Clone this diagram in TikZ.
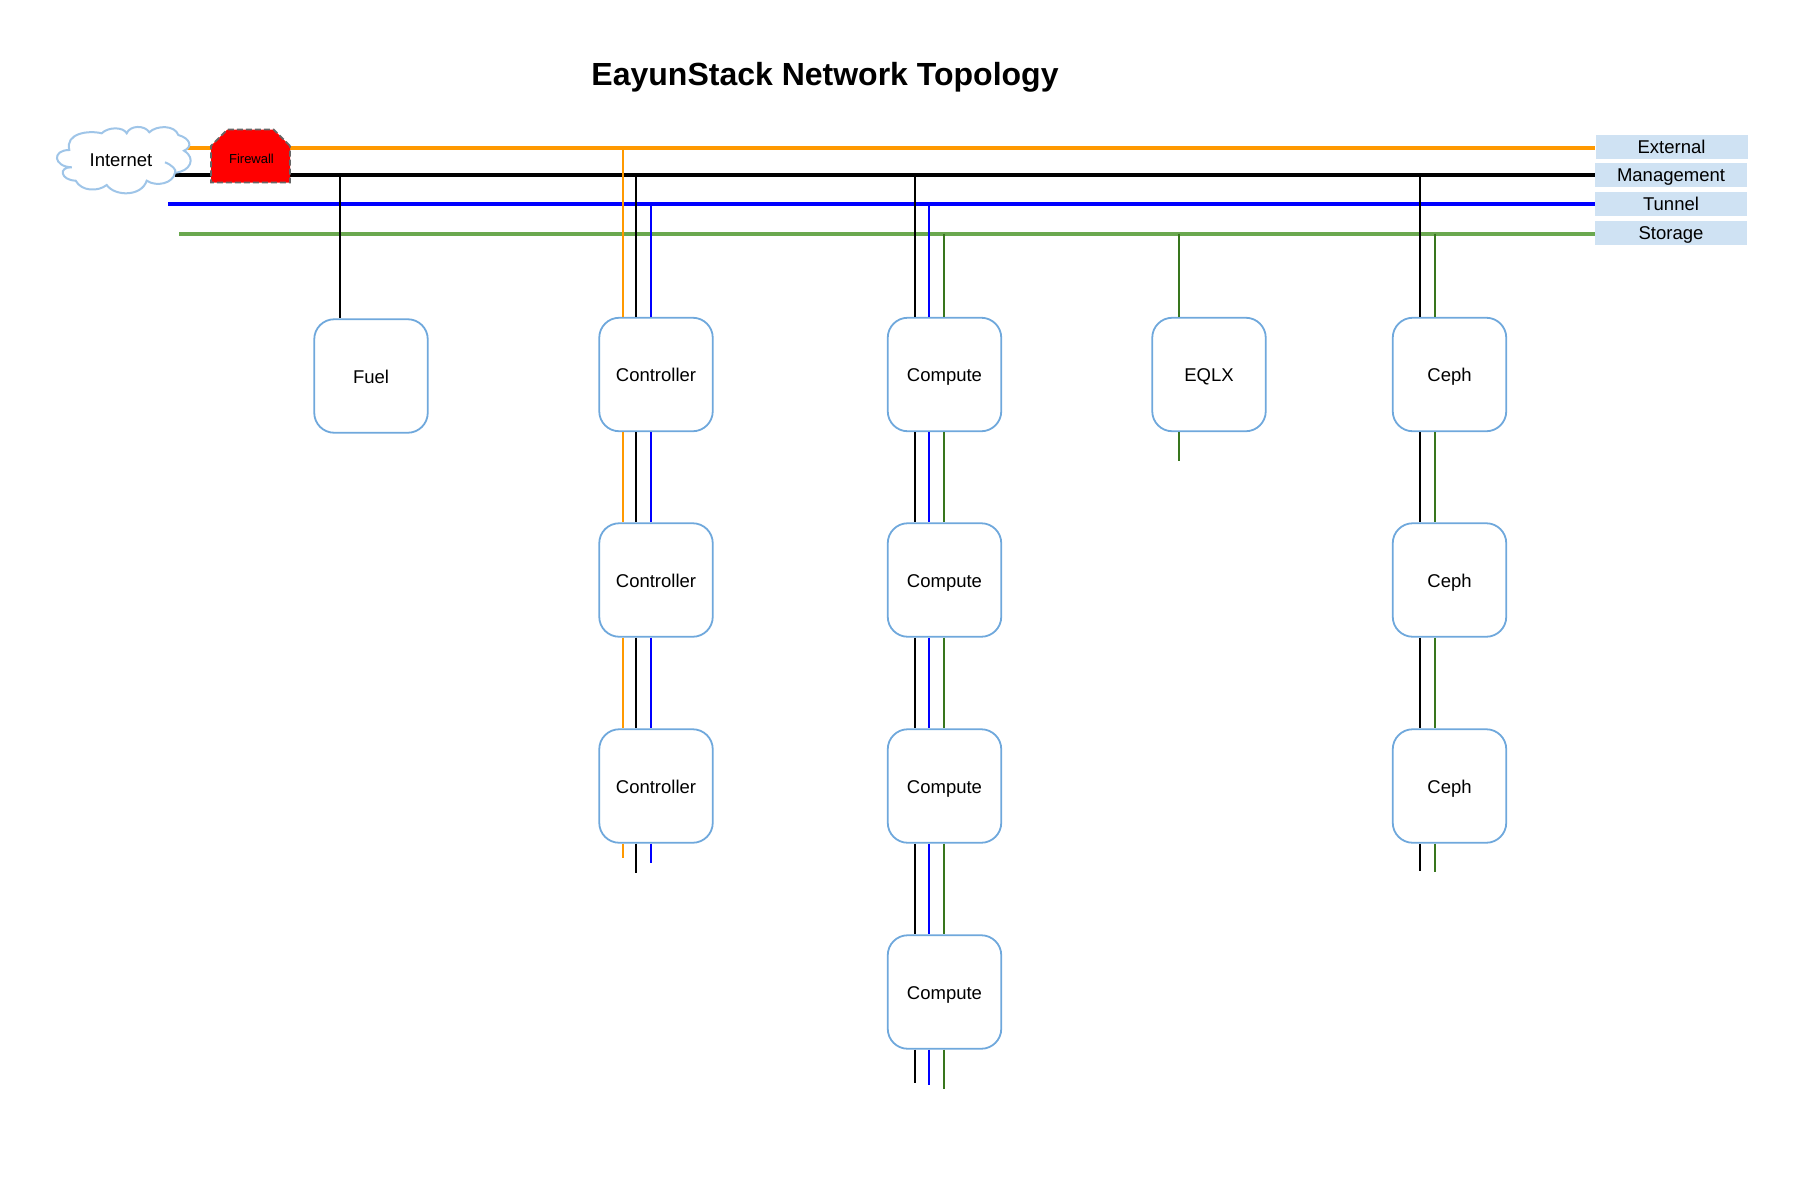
\documentclass[tikz,border=0pt]{standalone}
\usepackage{fontspec}
\setmainfont{Liberation Sans}
\usetikzlibrary{shapes.misc}

\definecolor{extline}{HTML}{FF9900}
\definecolor{tunline}{HTML}{0000FF}
\definecolor{stoline}{HTML}{6AA84F}
\definecolor{stodrop}{HTML}{38761D}
\definecolor{boxline}{HTML}{6FA8DC}
\definecolor{cloudline}{HTML}{9FC5E8}
\definecolor{netfill}{HTML}{CFE2F3}
\definecolor{wallline}{HTML}{666666}

\tikzset{
  hostbox/.style={draw=boxline, line width=1.8pt, fill=white, rounded corners=20pt,
    minimum width=113.5pt, minimum height=113.5pt, inner sep=0pt,
    text height=14pt, text depth=0pt,
    font=\fontsize{18.5}{22}\selectfont},
  netlabel/.style={fill=netfill, minimum width=152pt, minimum height=24pt, inner sep=0pt,
    text height=13.5pt, text depth=0pt,
    font=\fontsize{18.5}{22}\selectfont},
  bus/.style={line width=4pt},
  drop/.style={line width=2pt},
  cloudedge/.style={draw=cloudline, line width=2pt, fill=white}
}

\begin{document}
\begin{tikzpicture}[x=1pt, y=-1pt]

  \useasboundingbox (0,0) rectangle (1802,1183);

  \node[font=\fontsize{32}{38}\selectfont\bfseries] (title) at (825,77.5) {EayunStack Network Topology};

  % labels on the right
  \node[netlabel] (extLabel) at (1671.5,147) {External};
  \node[netlabel] (mgmtLabel) at (1671,175) {Management};
  \node[netlabel] (tunLabel) at (1671,204) {Tunnel};
  \node[netlabel] (stoLabel) at (1671,233) {Storage};

  \coordinate (extStart) at (185,147.5);
  \coordinate (mgmtStart) at (175,174.5);
  \coordinate (tunStart) at (168,203.5);
  \coordinate (stoStart) at (179,233.5);

  \draw[bus, extline] (extStart) -- (extStart -| extLabel.west);
  \draw[bus, black] (mgmtStart) -- (mgmtStart -| mgmtLabel.west);
  \draw[bus, tunline] (tunStart) -- (tunStart -| tunLabel.west);
  \draw[bus, stoline] (stoStart) -- (stoStart -| stoLabel.west);

  % cloud outline
  \draw[cloudedge] (69.3,150)
    .. controls (65,133.3) and (88.3,130) .. (101.7,133.3)
    .. controls (108.3,126.7) and (123.3,126.7) .. (126.7,133.3)
    .. controls (130,125) and (145,125) .. (149.3,132.3)
    .. controls (156.7,125) and (175,125) .. (178.3,135)
    .. controls (190,138.3) and (193.3,146.7) .. (184,150.7)
    .. controls (196.7,158.3) and (190,171.7) .. (175,172.7)
    .. controls (173.3,183.3) and (156.7,187.3) .. (146.7,180.7)
    .. controls (141.7,196.7) and (115,196.7) .. (106.7,185)
    .. controls (98.3,191.7) and (81.7,191.7) .. (75.7,180.7)
    .. controls (60,180) and (58.3,166.7) .. (71.7,167.3)
    .. controls (53.3,166.7) and (51.7,150) .. (69.3,150) -- cycle;
  \draw[cloudedge, fill=none] (165,162.3) .. controls (172,165) and (177,170) .. (175,172.7);
  \node[font=\fontsize{18.5}{22}\selectfont, text height=14pt, text depth=0pt, inner sep=0pt] (internet) at (121,159) {Internet};

  \node[chamfered rectangle, chamfered rectangle corners={north west,north east},
    chamfered rectangle xsep=9pt, chamfered rectangle ysep=9pt,
    draw=wallline, dash pattern=on 6pt off 3pt, line width=1.8pt, fill=red,
    minimum width=79pt, minimum height=53pt, text height=14.6pt, text depth=0pt,
    inner sep=0pt, font=\fontsize{13}{15}\selectfont] (firewall) at (250.5,156) {\hspace*{2pt}Firewall};

  % hosts
  \node[hostbox] (fuel) at (371,376) {Fuel};
  \foreach \name/\y in {ctrlA/374.5, ctrlB/580, ctrlC/786}
    \node[hostbox] (\name) at (656,\y) {Controller};
  \foreach \name/\y in {compA/374.5, compB/580, compC/786, compD/992}
    \node[hostbox] (\name) at (944.5,\y) {Compute};
  \node[hostbox] (eqlx) at (1209,374.5) {EQLX};
  \foreach \name/\y in {cephA/374.5, cephB/580, cephC/786}
    \node[hostbox] (\name) at (1449.5,\y) {Ceph};

  % drops from the networks
  \coordinate (fuelTop) at (340,174.5);
  \draw[drop, black] (fuelTop) -- (fuelTop |- fuel.north);

  \foreach \net/\x/\bus/\stub/\col in {ext/623/147.5/858/extline, mgmt/636/174.5/873/black, tun/650.5/203.5/863/tunline}{
    \coordinate (\net Ctrl) at (\x,\bus);
    \coordinate (\net CtrlEnd) at (\x,\stub);
    \draw[drop, \col] (\net Ctrl) -- (\net Ctrl |- ctrlA.north);
    \draw[drop, \col] (\net Ctrl |- ctrlA.south) -- (\net Ctrl |- ctrlB.north);
    \draw[drop, \col] (\net Ctrl |- ctrlB.south) -- (\net Ctrl |- ctrlC.north);
    \draw[drop, \col] (\net Ctrl |- ctrlC.south) -- (\net CtrlEnd);
  }

  \foreach \net/\x/\bus/\stub/\col in {mgmt/915/174.5/1083/black, tun/929/203.5/1085/tunline, sto/944/233.5/1089/stodrop}{
    \coordinate (\net Comp) at (\x,\bus);
    \coordinate (\net CompEnd) at (\x,\stub);
    \draw[drop, \col] (\net Comp) -- (\net Comp |- compA.north);
    \draw[drop, \col] (\net Comp |- compA.south) -- (\net Comp |- compB.north);
    \draw[drop, \col] (\net Comp |- compB.south) -- (\net Comp |- compC.north);
    \draw[drop, \col] (\net Comp |- compC.south) -- (\net Comp |- compD.north);
    \draw[drop, \col] (\net Comp |- compD.south) -- (\net CompEnd);
  }

  \coordinate (eqlxTop) at (1179,233.5);
  \coordinate (eqlxEnd) at (1179,461);
  \draw[drop, stodrop] (eqlxTop) -- (eqlxTop |- eqlx.north);
  \draw[drop, stodrop] (eqlxTop |- eqlx.south) -- (eqlxEnd);

  \foreach \net/\x/\bus/\stub/\col in {mgmt/1419.5/174.5/870.5/black, sto/1434.5/233.5/872/stodrop}{
    \coordinate (\net Ceph) at (\x,\bus);
    \coordinate (\net CephEnd) at (\x,\stub);
    \draw[drop, \col] (\net Ceph) -- (\net Ceph |- cephA.north);
    \draw[drop, \col] (\net Ceph |- cephA.south) -- (\net Ceph |- cephB.north);
    \draw[drop, \col] (\net Ceph |- cephB.south) -- (\net Ceph |- cephC.north);
    \draw[drop, \col] (\net Ceph |- cephC.south) -- (\net CephEnd);
  }

\end{tikzpicture}
\end{document}
